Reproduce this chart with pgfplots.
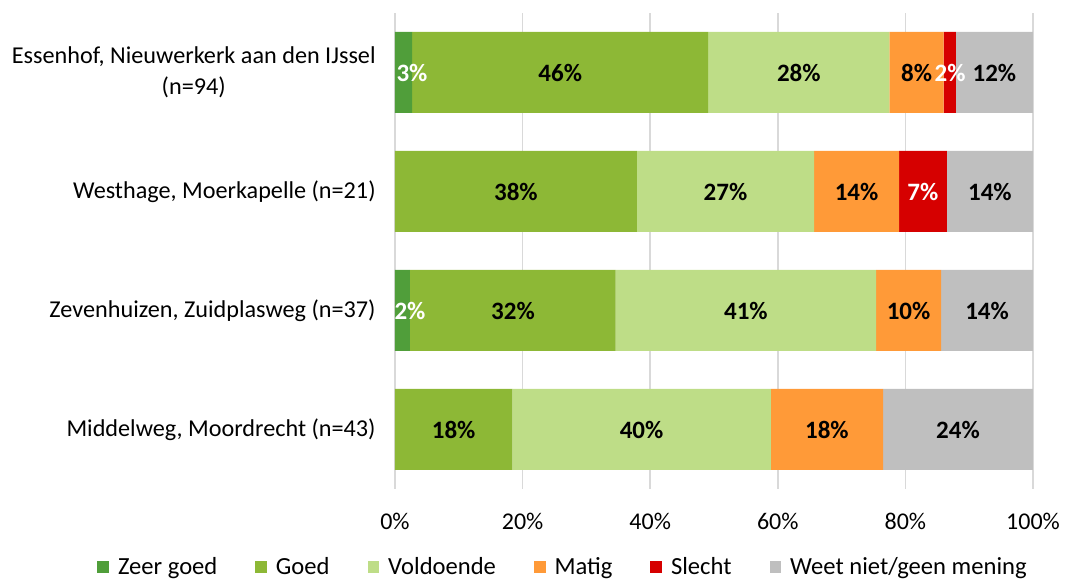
\documentclass[border=0pt]{standalone}
\usepackage{pgfplots}
\pgfplotsset{compat=1.18}
\usepackage{fontspec}
\setmainfont{Carlito}
\definecolor{zg}{RGB}{80,158,58}
\definecolor{gd}{RGB}{141,184,54}
\definecolor{vd}{RGB}{190,221,135}
\definecolor{mt}{RGB}{255,154,56}
\definecolor{sl}{RGB}{214,0,0}
\definecolor{wn}{RGB}{191,191,191}
\definecolor{gridc}{RGB}{217,217,217}
\begin{document}
\begin{tikzpicture}[font=\fontsize{12}{14}\selectfont]
\pgfplotsset{
  base/.style={
    scale only axis, width=319pt, height=238pt,
    xmin=0, xmax=100, ymin=-0.5, ymax=3.5,
  }
}
\begin{axis}[base,
  /pgf/number format/assume math mode=true,
  xbar stacked, bar width=40.5pt,
  axis x line*=bottom, x axis line style={draw=none},
  axis y line*=left, y axis line style={draw=gridc, line width=0.8pt},
  xtick={0,20,40,60,80,100},
  xticklabel={\pgfmathprintnumber{\tick}\%},
  xticklabel style={anchor=center, yshift=-16pt},
  xmajorgrids, major grid style={gridc, line width=0.8pt},
  x tick style={draw=none},
  ytick={0,1,2,3},
  yticklabels={{Middelweg, Moordrecht (n=43)},{Zevenhuizen, Zuidplasweg (n=37)},{Westhage, Moerkapelle (n=21)},{Essenhof, Nieuwerkerk aan den IJssel\\(n=94)}},
  yticklabel style={align=center, xshift=-7.5pt, inner sep=2pt, font=\fontsize{12.1}{15.5}\selectfont},
  y tick style={draw=none},
  extra y ticks={-0.5,0.5,1.5,2.5,3.5},
  extra y tick labels={},
  extra y tick style={tick align=outside, major tick length=4pt, tick style={draw=gridc, line width=0.8pt}},
  legend columns=6,
  legend style={draw=none, fill=none, at={(axis description cs:0.265,-0.164)}, anchor=center,
    font=\fontsize{12.3}{14}\selectfont,
    /tikz/every odd column/.append style={column sep=2.5pt},
    /tikz/every even column/.append style={column sep=17pt}},
  legend image code/.code={\fill[#1] (0pt,-2.9pt) rectangle (5.8pt,2.9pt);},
]
\addplot[fill=zg, draw=none] coordinates {(2.7,3) (0,2) (2.35,1) (0,0)};
\addplot[fill=gd, draw=none] coordinates {(46.4,3) (37.9,2) (32.25,1) (18.4,0)};
\addplot[fill=vd, draw=none] coordinates {(28.4,3) (27.8,2) (40.8,1) (40.5,0)};
\addplot[fill=mt, draw=none] coordinates {(8.5,3) (13.3,2) (10.2,1) (17.6,0)};
\addplot[fill=sl, draw=none] coordinates {(1.9,3) (7.5,2) (0,1) (0,0)};
\addplot[fill=wn, draw=none] coordinates {(12.1,3) (13.5,2) (14.4,1) (23.5,0)};
\legend{Zeer goed, Goed, Voldoende, Matig, Slecht, Weet niet/geen mening}
\end{axis}
\begin{axis}[base, hide axis, clip=false]
\addplot[draw=none, mark=none, nodes near coords, point meta=explicit symbolic,
  every node near coord/.append style={anchor=center, font=\fontsize{12.5}{14}\selectfont\bfseries, text=black}]
  coordinates {
  (25.9,3)[46\%] (63.3,3)[28\%] (81.75,3)[8\%] (93.95,3)[12\%]
  (18.95,2)[38\%] (51.8,2)[27\%] (72.35,2)[14\%] (93.25,2)[14\%]
  (18.5,1)[32\%] (55.0,1)[41\%] (80.5,1)[10\%] (92.8,1)[14\%]
  (9.2,0)[18\%] (38.65,0)[40\%] (67.7,0)[18\%] (88.25,0)[24\%]
  };
\addplot[draw=none, mark=none, nodes near coords, point meta=explicit symbolic,
  every node near coord/.append style={anchor=center, font=\fontsize{12.5}{14}\selectfont\bfseries, text=white}]
  coordinates {
  (2.66,3)[3\%] (87.0,3)[2\%] (82.75,2)[7\%] (2.35,1)[2\%]
  };
\path (axis description cs:-0.6191,-0.1891) rectangle (axis description cs:1.0533,1.0273);
\end{axis}
\end{tikzpicture}
\end{document}
